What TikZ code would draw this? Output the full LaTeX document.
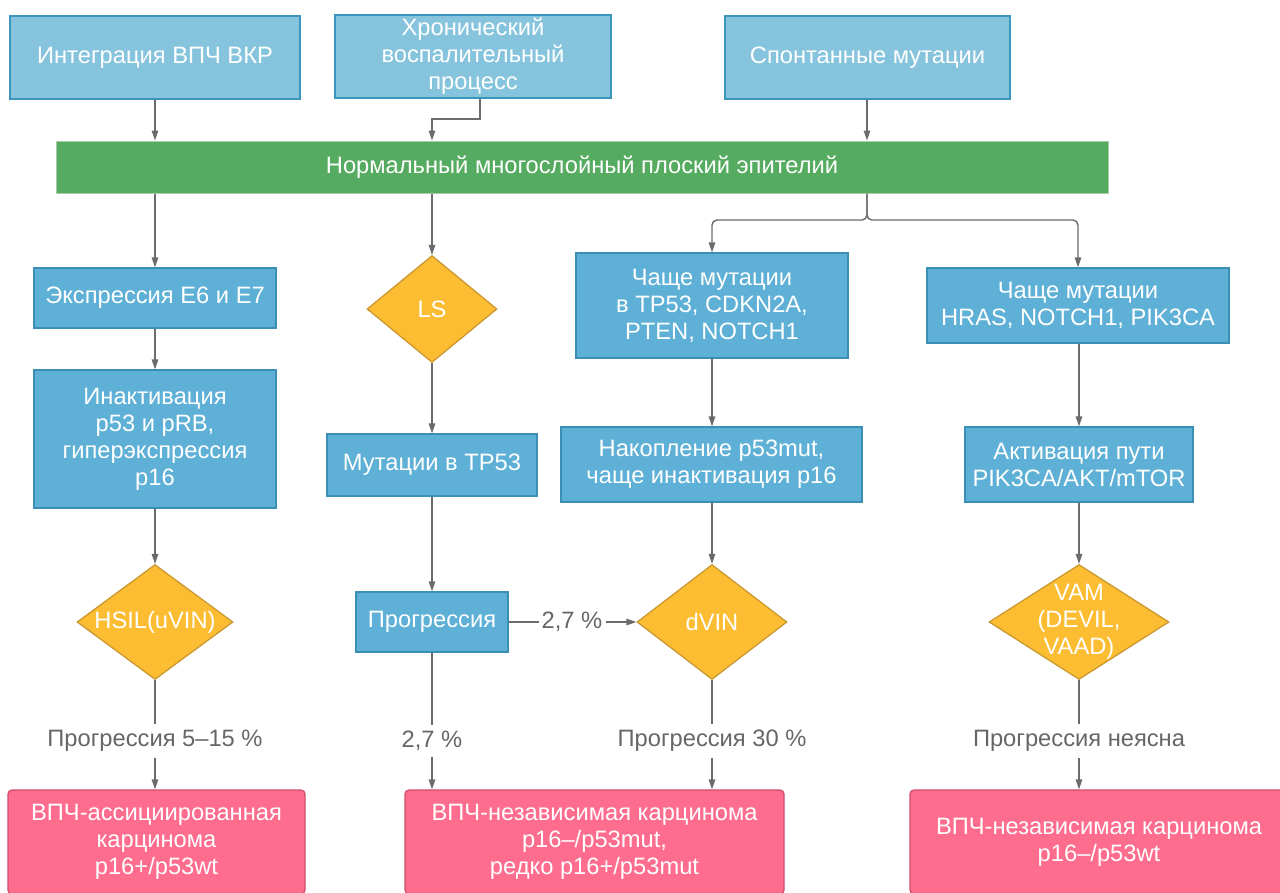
\documentclass[tikz,border=0pt]{standalone}
\usepackage{fontspec}
\setmainfont{Liberation Sans}
\usetikzlibrary{arrows.meta,shapes.geometric}
\definecolor{topfill}{HTML}{86C4DD}
\definecolor{topline}{HTML}{3B95BC}
\definecolor{midfill}{HTML}{5EB0D6}
\definecolor{midline}{HTML}{3A8FB5}
\definecolor{grfill}{HTML}{55AB60}
\definecolor{grline}{HTML}{A9C9AA}
\definecolor{dfill}{HTML}{FCBD33}
\definecolor{dline}{HTML}{C8962E}
\definecolor{pfill}{HTML}{FE6C8E}
\definecolor{pline}{HTML}{D24E6C}
\definecolor{conn}{HTML}{6B6B6B}
\definecolor{lbltext}{HTML}{666666}
\begin{document}
\begin{tikzpicture}[x=1pt,y=-1pt,
  font=\fontsize{23.7}{27}\selectfont,
  topbox/.style={draw=topline, fill=topfill, line width=1.3pt, text=white, align=center, inner sep=0pt},
  midbox/.style={draw=midline, fill=midfill, line width=1.3pt, text=white, align=center, inner sep=0pt},
  grbar/.style={draw=grline, fill=grfill, line width=1pt, text=white, inner sep=0pt},
  dia/.style={diamond, draw=dline, fill=dfill, line width=1.2pt, inner sep=0pt},
  dtext/.style={text=white, align=center, font=\fontsize{23.7}{27}\selectfont},
  pinkbox/.style={draw=pline, fill=pfill, line width=1.3pt, rounded corners=4pt, text=white, align=center, inner sep=0pt},
  lbl/.style={text=lbltext, inner sep=6pt},
  ln/.style={draw=conn, line width=1.4pt},
  arr/.style={ln, -{Triangle[length=10pt,width=6.5pt]}}
]
\useasboundingbox (0,0) rectangle (1280,892);
\fill[white] (0,0) rectangle (1280,892);
\begin{scope}
\clip (0,0) rectangle (1280,892);
% top row
\node[topbox, minimum width=290pt, minimum height=83pt] (b1) at (155,57.5) {Интеграция ВПЧ ВКР};
\node[topbox, minimum width=276pt, minimum height=83pt] (b2) at (473,56.5) {Хронический\\воспалительный\\процесс};
\node[topbox, minimum width=285pt, minimum height=83pt] (b3) at (867.5,57.5) {Спонтанные мутации};
\node[grbar, minimum width=1052pt, minimum height=52pt] (gr) at (582,167) {Нормальный многослойный плоский эпителий};
% column 1
\node[midbox, minimum width=242pt, minimum height=60pt] (e6) at (155,298) {Экспрессия E6 и E7};
\node[midbox, minimum width=242pt, minimum height=138pt] (inact) at (155,439) {Инактивация\\p53 и pRB,\\гиперэкспрессия\\p16};
\node[dia, minimum width=156pt, minimum height=115pt, label={[dtext]center:HSIL(uVIN)}] (hsil) at (155,622) {};
\node[lbl] (l1) at (155,741) {Прогрессия 5–15 \%};
\node[pinkbox, minimum width=297pt, minimum height=104pt] (p1) at (156.5,842) {ВПЧ-ассициированная\\карцинома\\p16+/p53wt};
% column 2
\node[dia, minimum width=130pt, minimum height=107pt, label={[dtext]center:LS}] (ls) at (432,309) {};
\node[midbox, minimum width=210pt, minimum height=62pt] (mut) at (432,465) {Мутации в TP53};
\node[midbox, minimum width=152pt, minimum height=60pt] (prog) at (432,622) {Прогрессия};
\node[lbl] (l2) at (432,741) {2,7 \%};
\node[pinkbox, minimum width=379pt, minimum height=104pt] (p2) at (594.5,842) {ВПЧ-независимая карцинома\\p16–/p53mut,\\редко p16+/p53mut};
% column 3
\node[midbox, minimum width=272pt, minimum height=105pt] (tp) at (712,305.5) {Чаще мутации\\в TP53, CDKN2A,\\PTEN, NOTCH1};
\node[midbox, minimum width=301pt, minimum height=75pt] (nak) at (711.5,464.5) {Накопление p53mut,\\чаще инактивация p16};
\node[dia, minimum width=150pt, minimum height=115pt, label={[dtext]center:dVIN}] (dvin) at (712,622) {};
\node[lbl] (l3) at (712,741) {Прогрессия 30 \%};
\node[lbl, inner sep=3pt] (l5) at (572,622) {2,7 \%};
% column 4
\node[midbox, minimum width=302pt, minimum height=75pt] (hras) at (1078,305.5) {Чаще мутации\\HRAS, NOTCH1, PIK3CA};
\node[midbox, minimum width=228pt, minimum height=75pt] (akt) at (1079,464.5) {Активация пути\\PIK3CA/AKT/mTOR};
\node[dia, minimum width=180pt, minimum height=115pt, label={[dtext]center:VAM\\(DEVIL,\\VAAD)}] (vam) at (1079,622) {};
\node[lbl] (l4) at (1079,741) {Прогрессия неясна};
\node[pinkbox, minimum width=378pt, minimum height=104pt] (p3) at (1099,842) {ВПЧ-независимая карцинома\\p16–/p53wt};
% connectors top
\coordinate (k2) at (480,119);
\coordinate (kb) at (867,220);
\draw[arr] (b1.south) -- (b1.south |- gr.north);
\draw[arr] (b2.south -| k2) -- (k2) -| (ls.north |- gr.north);
\draw[arr] (b3.south -| kb) -- (gr.north -| kb);
\draw[arr] (e6.north |- gr.south) -- (e6.north);
\draw[arr] (ls.north |- gr.south) -- (ls.north);
\draw[arr, rounded corners=5pt] (gr.south -| kb) -- (kb) -| (tp.north);
\draw[arr, rounded corners=5pt] (gr.south -| kb) -- (kb) -| (hras.north);
% column 1
\draw[arr] (e6.south) -- (inact.north);
\draw[arr] (inact.south -| hsil.north) -- (hsil.north);
\draw[ln] (hsil.south) -- (l1.north);
\draw[arr] (l1.south) -- (l1.south |- p1.north);
% column 2
\draw[arr] (ls.south) -- (mut.north);
\draw[arr] (mut.south -| prog.north) -- (prog.north);
\draw[ln] (prog.south) -- (l2.north);
\draw[arr] (l2.south) -- (l2.south |- p2.north);
\draw[ln] (prog.east) -- (prog.east -| l5.west);
\draw[arr] (l5.east |- dvin.west) -- (dvin.west);
% column 3
\draw[arr] (tp.south) -- (tp.south |- nak.north);
\draw[arr] (nak.south -| dvin.north) -- (dvin.north);
\draw[ln] (dvin.south) -- (l3.north);
\draw[arr] (l3.south) -- (l3.south |- p2.north);
% column 4
\draw[arr] (hras.south -| akt.north) -- (akt.north);
\draw[arr] (akt.south -| vam.north) -- (vam.north);
\draw[ln] (vam.south) -- (l4.north);
\draw[arr] (l4.south) -- (l4.south |- p3.north);
\end{scope}
\end{tikzpicture}
\end{document}
